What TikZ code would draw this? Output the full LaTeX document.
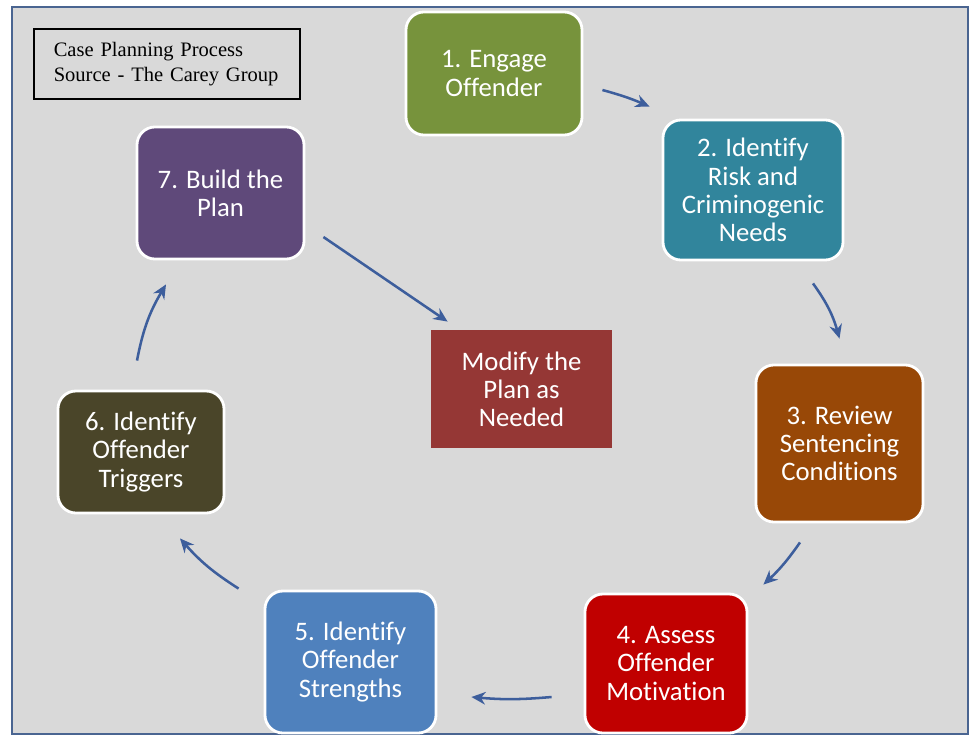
\documentclass[tikz,border=0pt]{standalone}
\usepackage{fontspec}
\setmainfont{Liberation Serif}
\newfontfamily\stagefont[Ligatures=NoCommon]{Carlito}
\usetikzlibrary{arrows.meta}

\definecolor{panelgrey}{HTML}{D9D9D9}
\definecolor{framecol}{HTML}{4A6591}
\definecolor{arrowblue}{HTML}{3D5E9C}
\definecolor{engagegreen}{HTML}{77933C}
\definecolor{riskteal}{HTML}{31859C}
\definecolor{reviewbrown}{HTML}{984807}
\definecolor{assessred}{HTML}{C00000}
\definecolor{strengthblue}{HTML}{4F81BD}
\definecolor{triggerolive}{HTML}{4A4529}
\definecolor{buildpurple}{HTML}{5F497A}
\definecolor{modifyred}{HTML}{953735}

\begin{document}
\begin{tikzpicture}[
		x = 0.025cm,
		y = -0.025cm,
		stage/.style = {
			draw = white,
			line width = 2pt,
			rounded corners = 0.45cm,
			text = white,
			align = center,
			inner sep = 0pt,
			font = \stagefont\fontsize{19}{20}\selectfont
		},
		titlebox/.style = {
			draw = black,
			line width = 1.1pt,
			align = left,
			text width = 5.65cm,
			inner xsep = 0.5cm,
			minimum height = 1.75cm,
			font = \fontsize{14.6}{17.8}\selectfont
		},
		arr/.style = {
			draw = arrowblue,
			line width = 1.8pt,
			-{Stealth[length=10pt, width=9pt]}
		}
	]

	\useasboundingbox (0,0) rectangle (976,738);
	\draw [framecol, fill=panelgrey, line width=1.5pt] (12,7) rectangle (968,734);

	\node [titlebox, anchor=north west] (title) at (33,28) {Case Planning Process\\Source - The Carey Group};

	\node [stage, fill=engagegreen, minimum width=4.4cm, minimum height=3.075cm] (engage) at (494,73.5) {1. Engage\\Offender};
	\node [stage, fill=riskteal, minimum width=4.5cm, minimum height=3.5cm] (risk) at (753,190) {2. Identify\\Risk and\\Criminogenic\\Needs};
	\node [stage, fill=reviewbrown, minimum width=4.175cm, minimum height=3.925cm] (review) at (839.5,443.5) {3. Review\\Sentencing\\Conditions};
	\node [stage, fill=assessred, minimum width=4.05cm, minimum height=3.475cm] (assess) at (666,663.5) {4. Assess\\Offender\\Motivation};
	\node [stage, fill=strengthblue, minimum width=4.275cm, minimum height=3.55cm] (strengths) at (350.5,662) {5. Identify\\Offender\\Strengths};
	\node [stage, fill=triggerolive, minimum width=4.15cm, minimum height=3.05cm] (triggers) at (141,452) {6. Identify\\Offender\\Triggers};
	\node [stage, fill=buildpurple, minimum width=4.175cm, minimum height=3.3cm] (build) at (220.5,193) {7. Build the\\Plan};
	\node [stage, fill=modifyred, draw=none, rounded corners=0pt, minimum width=4.525cm, minimum height=2.95cm] (modify) at (521.5,389) {Modify the\\Plan as\\Needed};

	\draw [arr] ([shift={(19,16.5)}]engage.east) to [bend left=4] ([shift={(-12,-12)}]risk.north west);
	\draw [arr] ([shift={(60,22)}]risk.south) to [bend left=10] ([shift={(0,-25)}]review.north);
	\draw [arr] ([shift={(-39.5,19)}]review.south) to [bend left=6] ([shift={(15,-8)}]assess.north east);
	\draw [arr] ([shift={(-32,33.5)}]assess.west) to [bend left=5] ([shift={(34,35)}]strengths.east);
	\draw [arr] ([shift={(-25,-1)}]strengths.north west) to [bend left=8] ([shift={(39,24)}]triggers.south);
	\draw [arr] ([shift={(-4,-29)}]triggers.north) to [bend left=10] ([shift={(-54.5,24)}]build.south);
	\draw [arr] ([shift={(18,44)}]build.east) -- ([shift={(18,-7)}]modify.north west);
\end{tikzpicture}
\end{document}
